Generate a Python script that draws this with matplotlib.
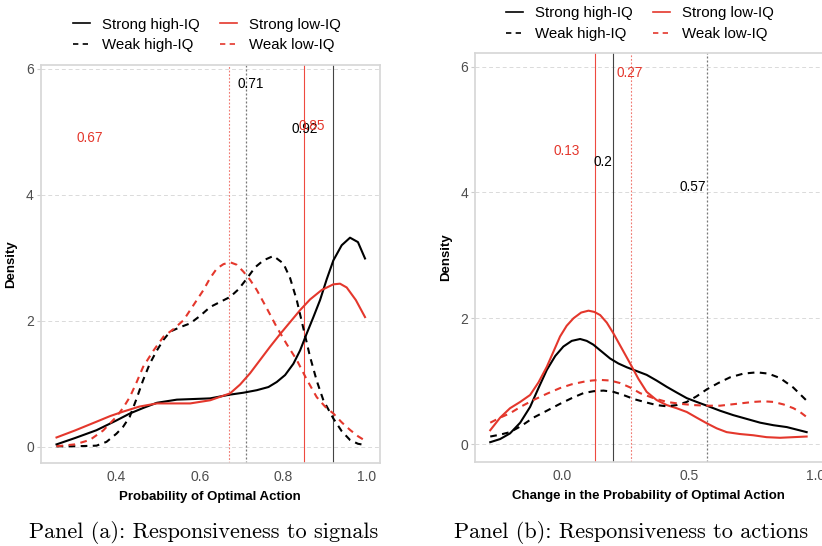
import numpy as np
import matplotlib
matplotlib.use("Agg")
import matplotlib.pyplot as plt
from matplotlib.lines import Line2D

plt.rcParams["font.family"] = ["Liberation Sans", "DejaVu Sans"]

RED = "#E4372C"
W, H = 822, 546

# ---- panel (a): responsiveness to signals ----
a_sh_x = [0.256, 0.30, 0.352, 0.40, 0.432, 0.465, 0.497, 0.545, 0.585, 0.625, 0.673, 0.705, 0.737,
          0.765, 0.785, 0.805, 0.825, 0.841, 0.857, 0.873, 0.889, 0.905, 0.921, 0.941, 0.961, 0.980, 0.997]
a_sh_y = [0.04, 0.14, 0.265, 0.42, 0.53, 0.62, 0.70, 0.75, 0.76, 0.77, 0.83, 0.86, 0.90,
          0.95, 1.03, 1.14, 1.32, 1.53, 1.80, 2.06, 2.33, 2.66, 2.96, 3.20, 3.32, 3.25, 2.99]
a_sl_x = [0.256, 0.30, 0.352, 0.385, 0.416, 0.455, 0.497, 0.537, 0.577, 0.625, 0.673, 0.697, 0.721,
          0.745, 0.769, 0.793, 0.817, 0.841, 0.865, 0.893, 0.921, 0.937, 0.953, 0.975, 0.997]
a_sl_y = [0.15, 0.26, 0.40, 0.49, 0.56, 0.64, 0.69, 0.69, 0.69, 0.74, 0.85, 0.99, 1.17,
          1.38, 1.59, 1.79, 1.98, 2.17, 2.34, 2.49, 2.58, 2.59, 2.53, 2.33, 2.06]
a_wh_x = [0.256, 0.30, 0.352, 0.376, 0.40, 0.416, 0.432, 0.448, 0.464, 0.480, 0.497, 0.513, 0.529,
          0.553, 0.577, 0.601, 0.625, 0.649, 0.673, 0.693, 0.713, 0.733, 0.753, 0.777, 0.801,
          0.817, 0.833, 0.849, 0.865, 0.881, 0.897, 0.921, 0.941, 0.961, 0.980, 0.997]
a_wh_y = [0.01, 0.01, 0.02, 0.08, 0.21, 0.32, 0.48, 0.76, 1.06, 1.32, 1.53, 1.70, 1.83,
          1.90, 1.96, 2.08, 2.22, 2.30, 2.38, 2.50, 2.67, 2.85, 2.96, 3.03, 2.91,
          2.68, 2.33, 1.88, 1.43, 1.05, 0.74, 0.45, 0.25, 0.11, 0.05, 0.03]
a_wl_x = [0.256, 0.30, 0.336, 0.368, 0.40, 0.416, 0.432, 0.448, 0.464, 0.489, 0.513, 0.537, 0.561,
          0.585, 0.609, 0.625, 0.641, 0.657, 0.673, 0.689, 0.705, 0.721, 0.737, 0.761, 0.785,
          0.809, 0.833, 0.857, 0.881, 0.901, 0.921, 0.941, 0.961, 0.980, 0.997]
a_wl_y = [0.01, 0.04, 0.11, 0.26, 0.48, 0.62, 0.79, 1.02, 1.27, 1.53, 1.75, 1.87, 2.01,
          2.25, 2.49, 2.68, 2.83, 2.90, 2.93, 2.89, 2.78, 2.65, 2.49, 2.20, 1.90,
          1.63, 1.38, 1.07, 0.79, 0.64, 0.53, 0.39, 0.27, 0.17, 0.10]
a_means = {"sh": 0.92, "sl": 0.85, "wh": 0.71, "wl": 0.67}
a_labels = [("0.71", 0.722, 5.76, "black"), ("0.67", 0.336, 4.90, RED),
            ("0.92", 0.853, 5.04, "black"), ("0.85", 0.870, 5.10, RED)]

# ---- panel (b): responsiveness to actions ----
b_sh_x = [-0.283, -0.244, -0.205, -0.165, -0.126, -0.093, -0.060, -0.027, 0.005, 0.038, 0.071, 0.097,
          0.123, 0.156, 0.189, 0.222, 0.255, 0.294, 0.333, 0.372, 0.412, 0.451, 0.491, 0.530,
          0.570, 0.622, 0.674, 0.727, 0.780, 0.832, 0.885, 0.924, 0.963]
b_sh_y = [0.03, 0.08, 0.17, 0.34, 0.59, 0.89, 1.18, 1.40, 1.55, 1.64, 1.67, 1.64,
          1.58, 1.47, 1.36, 1.28, 1.22, 1.16, 1.10, 1.01, 0.91, 0.82, 0.73, 0.67,
          0.61, 0.53, 0.46, 0.40, 0.34, 0.30, 0.27, 0.23, 0.19]
b_sl_x = [-0.283, -0.244, -0.205, -0.165, -0.126, -0.093, -0.060, -0.034, -0.008, 0.018, 0.045,
          0.075, 0.104, 0.127, 0.150, 0.176, 0.202, 0.235, 0.268, 0.300, 0.333, 0.372, 0.412,
          0.451, 0.491, 0.530, 0.570, 0.609, 0.648, 0.700, 0.753, 0.805, 0.858, 0.910, 0.963]
b_sl_y = [0.22, 0.42, 0.57, 0.67, 0.78, 0.98, 1.23, 1.47, 1.71, 1.88, 2.00,
          2.09, 2.12, 2.10, 2.05, 1.93, 1.76, 1.52, 1.28, 1.04, 0.83, 0.70, 0.62,
          0.57, 0.51, 0.42, 0.33, 0.25, 0.19, 0.16, 0.14, 0.11, 0.10, 0.11, 0.12]
b_wh_x = [-0.283, -0.244, -0.205, -0.160, -0.113, -0.060, -0.008, 0.038, 0.084, 0.124, 0.163,
          0.202, 0.241, 0.287, 0.333, 0.372, 0.412, 0.451, 0.491, 0.530, 0.570, 0.615,
          0.661, 0.714, 0.767, 0.812, 0.858, 0.910, 0.963]
b_wh_y = [0.12, 0.15, 0.19, 0.29, 0.42, 0.53, 0.64, 0.73, 0.81, 0.84, 0.85,
          0.83, 0.78, 0.71, 0.66, 0.62, 0.60, 0.62, 0.67, 0.76, 0.87, 0.97,
          1.06, 1.12, 1.14, 1.12, 1.05, 0.90, 0.69]
b_wl_x = [-0.283, -0.244, -0.205, -0.160, -0.113, -0.060, -0.008, 0.038, 0.084, 0.117, 0.150,
          0.189, 0.228, 0.268, 0.307, 0.360, 0.412, 0.465, 0.517, 0.570, 0.622, 0.688,
          0.753, 0.793, 0.832, 0.872, 0.911, 0.937, 0.963]
b_wl_y = [0.34, 0.42, 0.49, 0.60, 0.70, 0.80, 0.89, 0.95, 0.99, 1.01, 1.02,
          1.01, 0.97, 0.90, 0.81, 0.73, 0.67, 0.64, 0.62, 0.61, 0.61, 0.64,
          0.67, 0.68, 0.67, 0.63, 0.57, 0.51, 0.43]
b_means = {"sh": 0.20, "sl": 0.13, "wh": 0.57, "wl": 0.27}
b_labels = [("0.27", 0.265, 5.90, RED), ("0.13", 0.018, 4.65, RED),
            ("0.2", 0.160, 4.48, "black"), ("0.57", 0.513, 4.09, "black")]

legend_names = ["Strong high-IQ", "Weak high-IQ", "Strong low-IQ", "Weak low-IQ"]

dash = (0, (3.2, 2.6))
dot = (0, (1.6, 1.6))


def px_axes(fig, l, t, r, b):
    return fig.add_axes([l / W, 1 - b / H, (r - l) / W, (b - t) / H])


def panel(ax, curves, means, labels, xlim, ylim, xticks, xlabel):
    sh, sl, wh, wl = curves
    ax.axvline(means["wl"], color="#F07A72", lw=0.8, ls=dot, zorder=1)
    ax.axvline(means["wh"], color="#777777", lw=0.9, ls=dot, zorder=1)
    ax.axvline(means["sl"], color="#EE4A40", lw=0.8, zorder=1)
    ax.axvline(means["sh"], color="#444444", lw=0.8, zorder=1)
    ax.plot(*sh, color="black", lw=1.5, zorder=3)
    ax.plot(*sl, color=RED, lw=1.5, zorder=3)
    ax.plot(*wh, color="black", lw=1.5, ls=dash, zorder=3)
    ax.plot(*wl, color=RED, lw=1.5, ls=dash, zorder=3)
    for txt, x, y, c in labels:
        ax.text(x, y, txt, color=c, fontsize=9.8, ha="center", va="center", zorder=4)
    ax.set_xlim(xlim)
    ax.set_ylim(ylim)
    ax.set_yticks([0, 2, 4, 6])
    ax.set_xticks(xticks)
    ax.xaxis.set_major_formatter(matplotlib.ticker.FormatStrFormatter("%.1f"))
    ax.grid(axis="y", color="#DADADA", lw=0.7, ls=(0, (4, 3)))
    ax.set_axisbelow(True)
    for s in ax.spines.values():
        s.set_color("#D6D6D6")
        s.set_linewidth(1.2)
    ax.tick_params(axis="y", length=3, color="#CCCCCC", labelsize=10, labelcolor="#4D4D4D", pad=2)
    ax.tick_params(axis="x", length=0, labelsize=10, labelcolor="#4D4D4D", pad=5)
    ax.set_xlabel(xlabel, fontsize=9.5, fontweight="bold", labelpad=5)
    ax.set_ylabel("Density", fontsize=9.5, fontweight="bold", labelpad=6)


fig = plt.figure(figsize=(W / 100, H / 100), dpi=100)

ax1 = px_axes(fig, 40.7, 65, 380, 463.3)
panel(ax1, [(a_sh_x, a_sh_y), (a_sl_x, a_sl_y), (a_wh_x, a_wh_y), (a_wl_x, a_wl_y)],
      a_means, a_labels, (0.218, 1.033), (-0.26, 6.06), [0.4, 0.6, 0.8, 1.0],
      "Probability of Optimal Action")

ax2 = px_axes(fig, 475, 53.3, 830, 461.7)
panel(ax2, [(b_sh_x, b_sh_y), (b_sl_x, b_sl_y), (b_wh_x, b_wh_y), (b_wl_x, b_wl_y)],
      b_means, b_labels, (-0.343, 1.055), (-0.28, 6.21), [0.0, 0.5, 1.0],
      "Change in the Probability of Optimal Action")
ax2.xaxis.label.set_x((648 - 475) / (830 - 475))

handles = [Line2D([], [], color="black", lw=1.2),
           Line2D([], [], color="black", lw=1.2, ls=dash),
           Line2D([], [], color=RED, lw=1.2),
           Line2D([], [], color=RED, lw=1.2, ls=dash)]
for cx, cy in [(207, 35), (640, 23.5)]:
    fig.legend(handles, legend_names, ncol=2, loc="center", bbox_to_anchor=(cx / W, 1 - cy / H),
               frameon=False, fontsize=10.8, handlelength=1.1, handletextpad=0.8,
               columnspacing=1.4, labelspacing=0.45)

fig.text(204 / W, 1 - 532 / H, "Panel (a): Responsiveness to signals",
         family="cmr10", fontsize=16, ha="center", va="center")
fig.text(631 / W, 1 - 532 / H, "Panel (b): Responsiveness to actions",
         family="cmr10", fontsize=16, ha="center", va="center")

fig.savefig("out.png", dpi=100)
